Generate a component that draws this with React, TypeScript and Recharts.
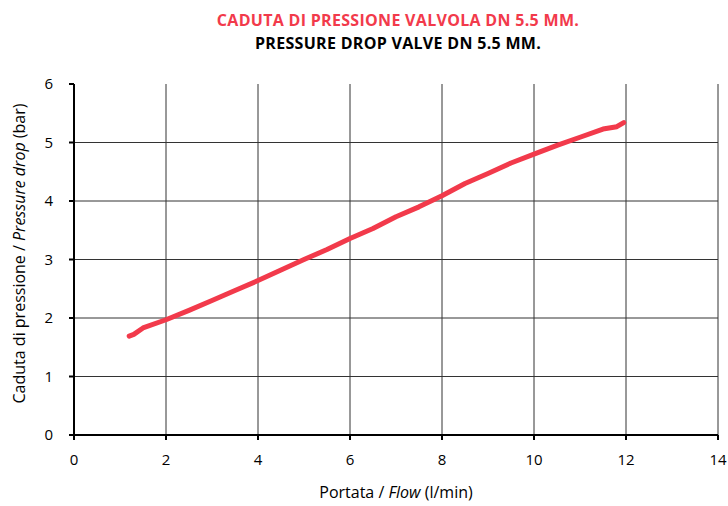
import { LineChart, Line, XAxis, YAxis, ReferenceLine } from "recharts"

// flow (l/min) and pressure drop (bar)
const flow = [1.2, 1.3, 1.5, 2.0, 2.5, 3.0, 3.5, 4.0, 4.5, 5.0, 5.5, 6.0, 6.5, 7.0, 7.5, 8.0, 8.5, 9.0, 9.5, 10.0, 10.5, 11.0, 11.5, 11.8, 11.95]
const pressure = [1.69, 1.72, 1.83, 1.97, 2.13, 2.3, 2.47, 2.64, 2.82, 3.0, 3.17, 3.36, 3.53, 3.73, 3.9, 4.09, 4.3, 4.47, 4.65, 4.8, 4.95, 5.09, 5.23, 5.27, 5.34]

const xTicks = [0, 2, 4, 6, 8, 10, 12, 14]
const yTicks = [0, 1, 2, 3, 4, 5, 6]

const RED = "#f23a4b"
const FONT = "'Open Sans', sans-serif"

const data = flow.map((f, i) => ({ flow: f, pressure: pressure[i] }))

const XLabel = (props: any) => {
  const vb = props.viewBox
  const cx = vb.x + vb.width / 2
  return (
    <text x={cx} y={vb.y + 63} textAnchor="middle" fill="#000" fontSize={16} fontFamily={FONT}>
      Portata / <tspan fontStyle="italic">Flow</tspan> (l/min)
    </text>
  )
}

const YLabel = (props: any) => {
  const vb = props.viewBox
  const cy = vb.y + vb.height / 2 - 6
  return (
    <text x={19} y={cy} transform={`rotate(-90 19 ${cy})`} textAnchor="middle" dominantBaseline="central" fill="#000" fontSize={16} fontFamily={FONT}>
      Caduta di pressione / <tspan fontStyle="italic">Pressure drop</tspan> (bar)
    </text>
  )
}

export default function App() {
  return (
    <div style={{ position: "relative", width: 728, height: 506, background: "#fff", fontFamily: FONT }}>
      <style>{"body{margin:0}"}</style>
      <div style={{ position: "absolute", left: 0, width: 796, top: 9, textAlign: "center", fontWeight: 700, fontSize: 16, letterSpacing: 0.3, color: RED, lineHeight: "22px" }}>
        CADUTA DI PRESSIONE VALVOLA DN 5.5 MM.
      </div>
      <div style={{ position: "absolute", left: 0, width: 796, top: 32, textAlign: "center", fontWeight: 700, fontSize: 16, letterSpacing: 0.3, color: "#000", lineHeight: "22px" }}>
        PRESSURE DROP VALVE DN 5.5 MM.
      </div>
      <LineChart width={728} height={506} data={data} margin={{ top: 84, right: 10, left: 0, bottom: 0 }}>
        {yTicks.filter((v) => v > 0 && v < 6).map((v) => (
          <ReferenceLine key={"y" + v} y={v} stroke="#333" strokeWidth={1} />
        ))}
        {xTicks.filter((v) => v > 0).map((v) => (
          <ReferenceLine key={"x" + v} x={v} stroke="#333" strokeWidth={1} />
        ))}
        <XAxis
          dataKey="flow"
          type="number"
          domain={[0, 14]}
          ticks={xTicks}
          height={71}
          stroke="#000"
          strokeWidth={2}
          tickSize={5}
          tickMargin={14}
          tick={{ fill: "#000", fontSize: 15, fontFamily: FONT }}
          label={XLabel}
        />
        <YAxis
          type="number"
          domain={[0, 6]}
          ticks={yTicks}
          width={74}
          stroke="#000"
          strokeWidth={2}
          tickSize={5}
          tickMargin={16}
          tick={{ fill: "#000", fontSize: 15, fontFamily: FONT }}
          label={YLabel}
        />
        <Line
          dataKey="pressure"
          stroke={RED}
          strokeWidth={5}
          dot={false}
          type="linear"
          strokeLinecap="round"
          strokeLinejoin="round"
          isAnimationActive={false}
        />
      </LineChart>
    </div>
  )
}
